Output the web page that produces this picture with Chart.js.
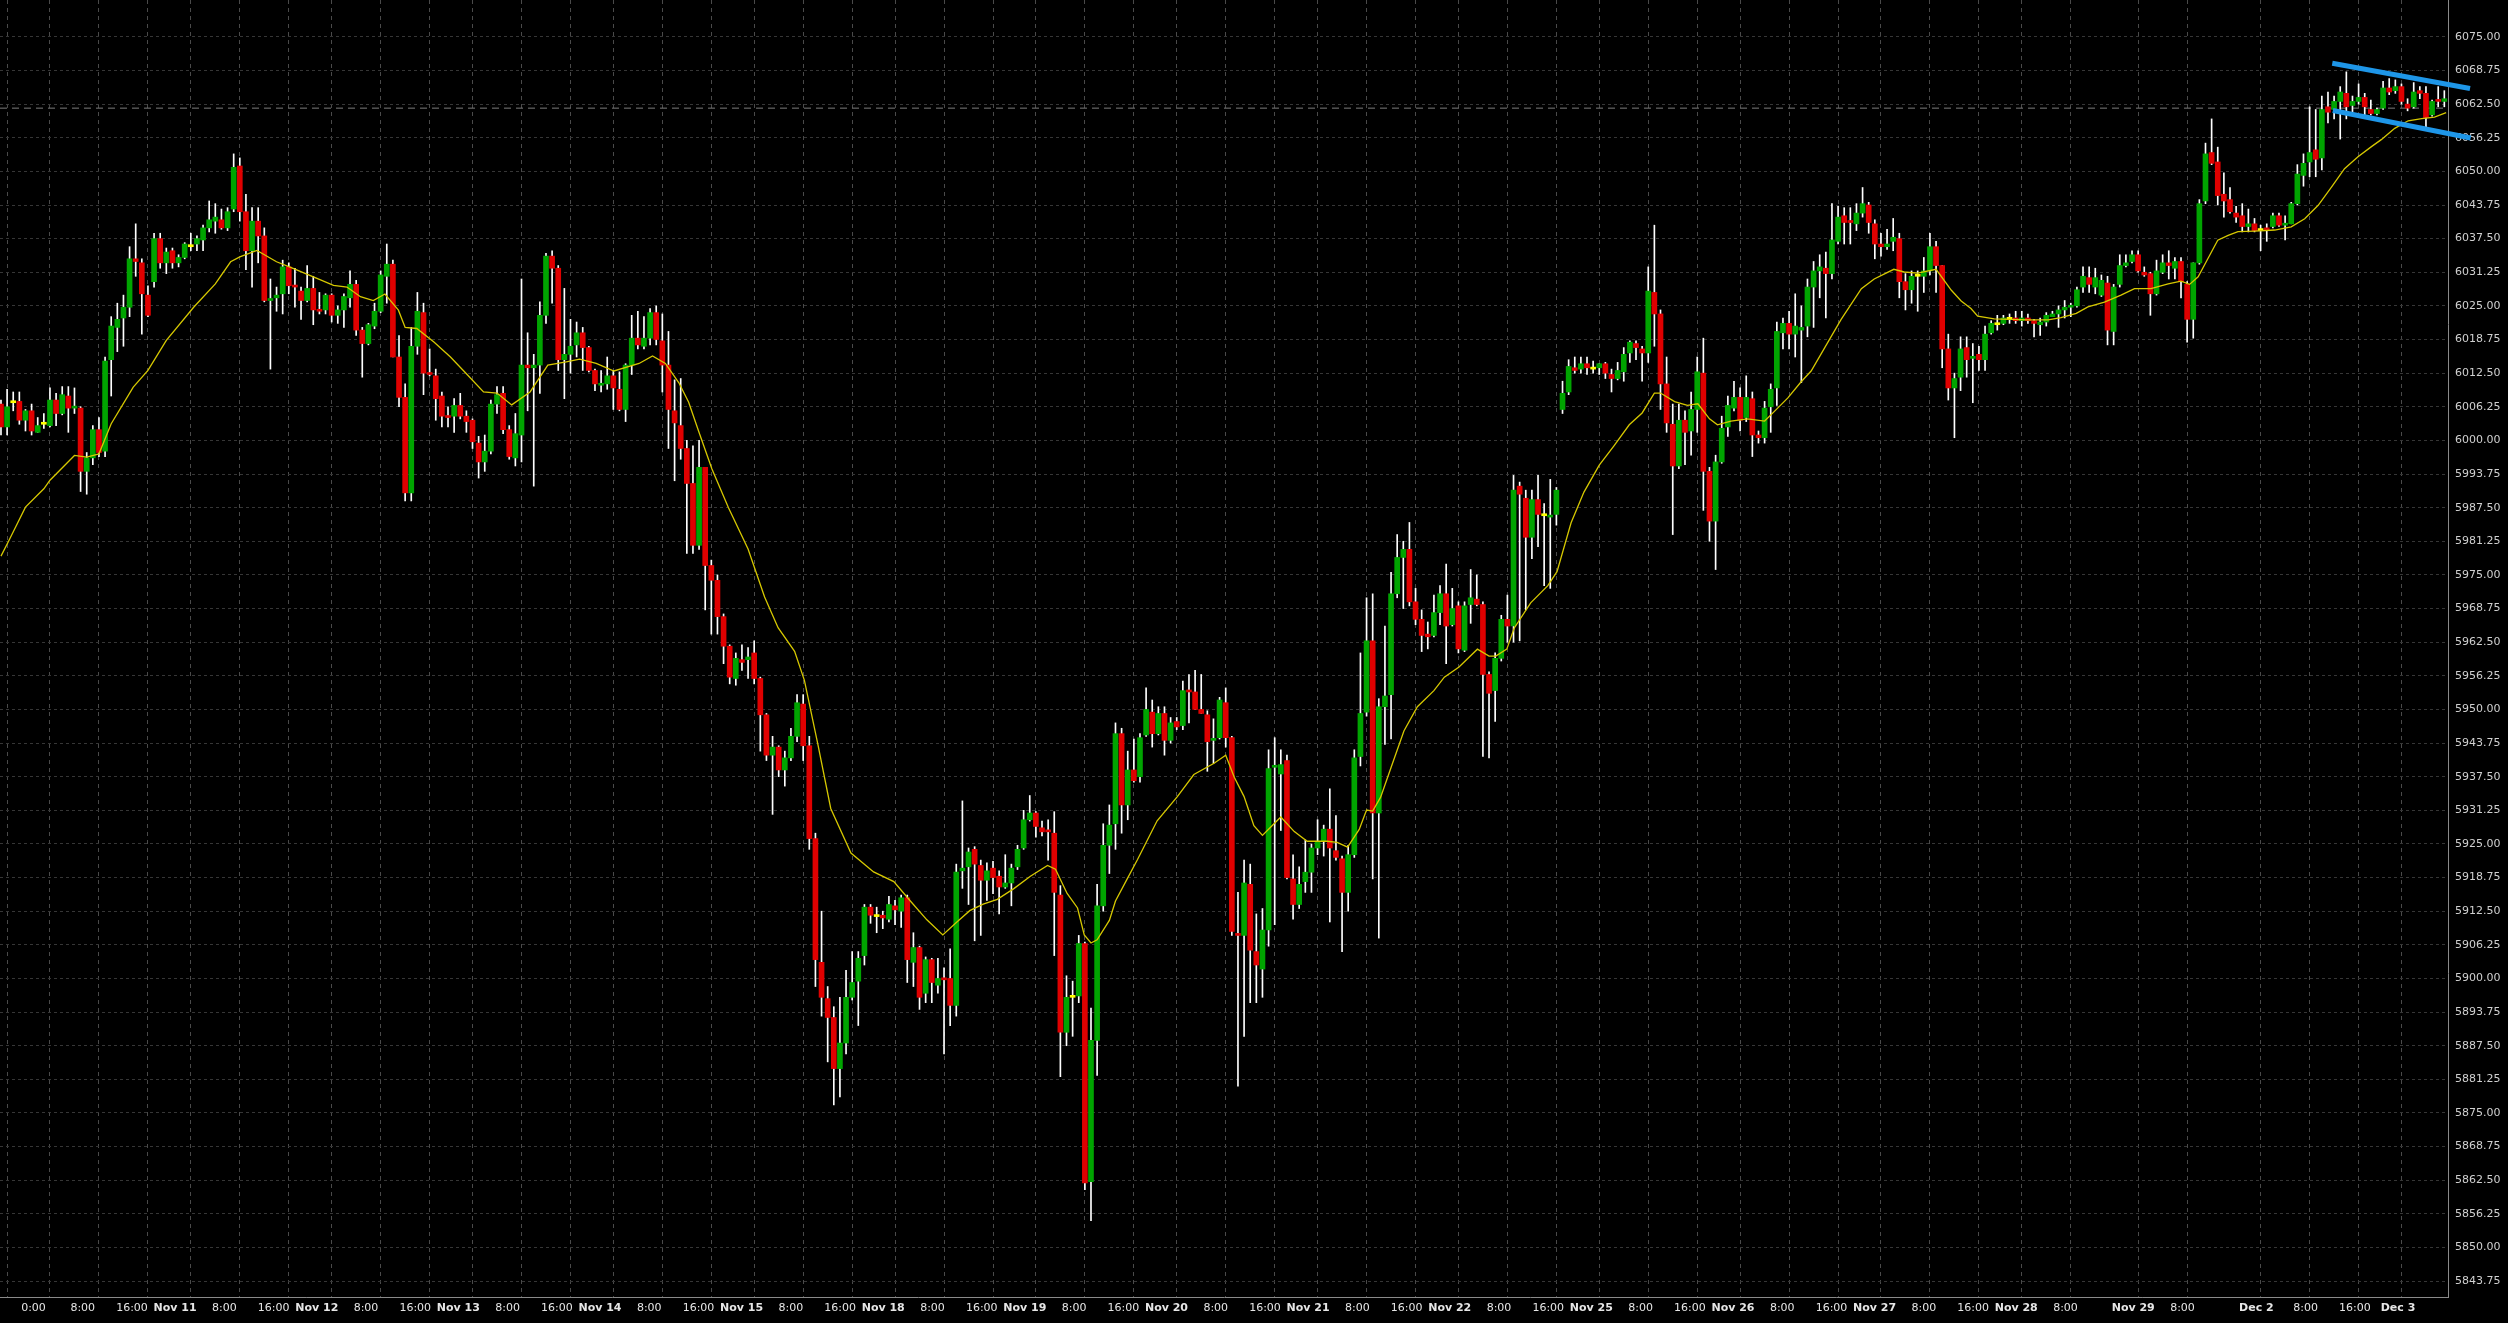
<!DOCTYPE html>
<html>
<head>
<meta charset="utf-8">
<script src="https://cdn.jsdelivr.net/npm/chart.js@4.4.1/dist/chart.umd.min.js"></script>
<style>
  html, body { margin: 0; padding: 0; background: #000; }
  #wrap { width: 2508px; height: 1323px; position: relative; }
</style>
</head>
<body>
<div id="wrap"><canvas id="priceChart"></canvas></div>
<script>
// Hourly bars, Nov 7 15:00 .. Dec 3 07:00 (index = bar number)
const opens = [
  6006.75, 6002.5, 6007, 6007.25, 6003.75, 6005.5, 6001.5, 6003, 6002.75, 6007.5,
  6005, 6008.25, 6006, 6006, 5994.25, 5996.75, 6002, 5998, 6015, 6021,
  6022.75, 6024.75, 6033.75, 6033, 6027, 6029.5, 6037.5, 6033, 6035.25, 6033,
  6034, 6036, 6036.5, 6037.25, 6039.5, 6040.75, 6041, 6039.5, 6043, 6051,
  6042.5, 6035.25, 6040.75, 6038, 6026, 6026.5, 6027.25, 6032.25, 6028.75, 6027.75,
  6026, 6028.25, 6024.25, 6024.25, 6027, 6023.25, 6024.25, 6026.5, 6029, 6020.5,
  6018, 6021.25, 6024, 6030.5, 6032.75, 6015.5, 6008, 5990.25, 6017.5, 6023.75,
  6012.5, 6012, 6008.25, 6004.5, 6004.5, 6006.5, 6004.5, 6003.75, 5999.5, 5996,
  5998, 6006.75, 6008.75, 6002, 5996.75, 6001, 6014, 6013.5, 6014, 6023.25,
  6034.25, 6032, 6015, 6016, 6017.75, 6020, 6017.25, 6013, 6010.25, 6010.5,
  6012, 6009.5, 6005.75, 6014, 6019, 6017.5, 6019, 6023.75, 6018.5, 6014,
  6005.5, 6002.75, 5998.5, 5992, 5980.5, 5995, 5976.75, 5974, 5967.25, 5961.75,
  5955.75, 5959.25, 5959.25, 5960.5, 5955.75, 5949, 5941.5, 5943, 5938.75, 5941,
  5945, 5951, 5943.25, 5926, 5903, 5896.25, 5892.75, 5883.25, 5888, 5896.5,
  5899.5, 5904.25, 5913.25, 5911.5, 5911.75, 5911, 5913.5, 5912.5, 5915, 5903,
  5905.75, 5897.25, 5903.5, 5898.75, 5900, 5900, 5895, 5920, 5920.75, 5924,
  5921, 5918.25, 5920.5, 5919, 5917, 5917.75, 5920.75, 5924.25, 5929.5, 5930.75,
  5928, 5927.5, 5927, 5915.5, 5890, 5896.5, 5896.75, 5906.5, 5862.25, 5888.5,
  5913.5, 5924.75, 5928.75, 5945.5, 5932.25, 5938.75, 5937.5, 5945.25, 5949.5, 5945.5,
  5949.25, 5944.25, 5947.75, 5947, 5953.5, 5953.25, 5950, 5949, 5944.25, 5944.75,
  5951.25, 5944.75, 5908.25, 5908, 5917.5, 5905, 5901.75, 5909, 5939.25, 5938,
  5940.5, 5918.5, 5913.75, 5918, 5919.75, 5924.25, 5925.5, 5927.75, 5923.75, 5922.25,
  5916, 5923, 5941.25, 5949.5, 5962.75, 5930.75, 5950.5, 5952.75, 5971.5, 5978.25,
  5979.75, 5970, 5966.75, 5964, 5963.75, 5968, 5971.5, 5965.75, 5969.25, 5961,
  5969.5, 5970.5, 5969.5, 5956.5, 5953.5, 5959.5, 5966.75, 5965.5, 5991.5, 5989.25,
  5982, 5989, 5986, 5985.75, 5986.25, 6005.75, 6009, 6013.5, 6013.25, 6014.25,
  6013.25, 6013.5, 6014.25, 6012.25, 6011.5, 6012.75, 6016.25, 6018, 6017, 6016.25,
  6027.5, 6023.5, 6010.5, 6003, 5995.25, 6003.75, 6001.75, 6005.75, 6012.5, 5994.25,
  5985, 5996, 6002.5, 6006, 6008, 6004.25, 6007.75, 6001, 6000.5, 6006.25,
  6009.75, 6020, 6021.75, 6019.75, 6020.5, 6021.25, 6028.5, 6031.5, 6032, 6031,
  6037, 6041.75, 6040.75, 6040.25, 6042.25, 6043.75, 6040.25, 6036.5, 6036, 6037,
  6037.5, 6029.5, 6028, 6030.5, 6030.5, 6031.5, 6036, 6032.5, 6017, 6009.75,
  6011.75, 6017.25, 6015.25, 6016, 6015, 6020, 6021.5, 6021.75, 6022.5, 6022.75,
  6022.25, 6022.75, 6022.25, 6021.5, 6022, 6023, 6023.5, 6024.25, 6024.75, 6025,
  6028.5, 6030.25, 6028.5, 6027, 6029.25, 6020.25, 6029, 6032.5, 6033.25, 6034.5,
  6031.25, 6031, 6027.25, 6031.25, 6033, 6032, 6033.25, 6029, 6022.5, 6033,
  6044.5, 6053.5, 6051.75, 6045.75, 6044.75, 6042.25, 6041.75, 6039.75, 6040.25, 6039,
  6039.5, 6039.75, 6041.75, 6040, 6040.25, 6044, 6049.25, 6051.75, 6054, 6052.5,
  6062, 6061.5, 6063, 6064.5, 6062.25, 6063, 6063.75, 6061.5, 6060.75, 6061.75,
  6065.5, 6065, 6065.75, 6062.5, 6062, 6065, 6064.5, 6060.5, 6063.25, 6063
];
const highs = [
  6007.5, 6009.5, 6009, 6009, 6005.75, 6006.75, 6004.25, 6005, 6009.75, 6008.75,
  6010, 6010, 6009.75, 6006.25, 5997.75, 6002.75, 6004.25, 6015.5, 6023, 6025.5,
  6027, 6036, 6040.25, 6033.75, 6028.75, 6038.5, 6038.5, 6035.75, 6035.75, 6034.5,
  6036.75, 6038.5, 6038, 6040, 6044.5, 6044, 6043, 6043.25, 6053.25, 6052.5,
  6045.75, 6043.25, 6043.25, 6039.5, 6030, 6028.5, 6033.5, 6033, 6032, 6028.5,
  6032.5, 6030.5, 6027.5, 6027.25, 6027.25, 6025, 6027.25, 6031.5, 6029.75, 6021,
  6021.75, 6025.5, 6031.5, 6036.5, 6033.5, 6019.5, 6010.5, 6021, 6027.5, 6025.5,
  6017, 6013.25, 6009, 6006.25, 6007.75, 6008.75, 6005.5, 6004, 6000.75, 6001,
  6007.5, 6010, 6010, 6002.75, 6005, 6030, 6020, 6016, 6025.75, 6034.75,
  6035.25, 6032.5, 6028.25, 6022.5, 6022, 6021, 6017.5, 6013.25, 6013, 6015.5,
  6013, 6012.75, 6014.25, 6023.25, 6024, 6023, 6024.5, 6025, 6023.5, 6020.25,
  6011.25, 6011.5, 6000, 5999, 6000, 5995, 5977.75, 5975, 5967.75, 5962,
  5960.5, 5962, 5961.5, 5962.75, 5956, 5949.25, 5945, 5943.25, 5942.25, 5946.5,
  5952.75, 5952.75, 5945, 5927, 5912.5, 5898.5, 5894.75, 5896.5, 5901.5, 5905,
  5905, 5913.75, 5913.75, 5913.25, 5912.5, 5915.25, 5914.5, 5915.5, 5915.5, 5908.5,
  5906, 5904, 5903.75, 5903.75, 5902, 5905.5, 5921.25, 5933, 5924.25, 5924.5,
  5922, 5921.5, 5921.75, 5920, 5923, 5921.25, 5924.75, 5931.25, 5934, 5931,
  5929.25, 5929.5, 5931, 5917.25, 5900.5, 5899.5, 5908, 5906.75, 5894.5, 5917.5,
  5928.75, 5932.25, 5947.5, 5946.5, 5942.25, 5944.5, 5945.5, 5954, 5951.75, 5950.5,
  5950.5, 5948.5, 5948.5, 5955.25, 5956.5, 5957.25, 5956.5, 5949.75, 5948.25, 5952.25,
  5954, 5945, 5916, 5922, 5921.25, 5912, 5913, 5942.5, 5944.75, 5942.5,
  5941.5, 5923, 5920.75, 5925.75, 5925, 5929.5, 5928.5, 5935.25, 5930.25, 5922.75,
  5924.75, 5942.5, 5960.5, 5970.75, 5971.5, 5952, 5965.5, 5975.5, 5982.5, 5981.25,
  5984.75, 5972.5, 5968.5, 5966.25, 5971.25, 5973, 5977, 5972.5, 5970, 5970,
  5976, 5975, 5970, 5957, 5960.5, 5967.5, 5971.25, 5993.5, 5992.25, 5990.75,
  5990.75, 5993.5, 5988.25, 5992.75, 5991.25, 6011, 6015, 6015.5, 6015.5, 6015.5,
  6014.75, 6014.25, 6014.5, 6013.25, 6014.5, 6017.25, 6018.5, 6018.5, 6017.5, 6032.25,
  6040, 6024.25, 6015.5, 6006.75, 6006.75, 6005.5, 6009, 6015.5, 6019, 5995,
  5997.25, 6004.5, 6008.25, 6011, 6009.75, 6012, 6009, 6001.75, 6007.25, 6010.5,
  6022, 6022.75, 6024, 6027.25, 6025, 6030, 6033.25, 6034.5, 6035, 6044,
  6043.5, 6043.25, 6043.25, 6044, 6047, 6044.25, 6041, 6038.5, 6039.25, 6041.25,
  6038.5, 6031, 6031.5, 6031.5, 6034, 6038.5, 6037, 6032.5, 6019.75, 6012.5,
  6019.25, 6019.25, 6018, 6017.5, 6021.25, 6022.25, 6023.25, 6023.25, 6023.5, 6024,
  6024, 6023.5, 6022.5, 6022.75, 6023.75, 6024, 6025, 6026, 6025.5, 6028.5,
  6032.25, 6032.25, 6032, 6030.75, 6030.5, 6029, 6034.5, 6034.5, 6035.25, 6035.25,
  6032.25, 6031.25, 6033.5, 6034.5, 6035.25, 6034, 6034, 6029.5, 6033, 6044.75,
  6055.25, 6059.75, 6054.5, 6049.75, 6047, 6043.5, 6044, 6043, 6041.25, 6040,
  6040.25, 6042.25, 6042.25, 6041.75, 6044.25, 6051.25, 6053.25, 6062, 6061.5, 6064,
  6064.75, 6064, 6065.75, 6068.5, 6064, 6066.25, 6064.5, 6063.25, 6061.75, 6066.75,
  6067.25, 6067, 6066.25, 6063.5, 6066.5, 6065.75, 6065.75, 6063.25, 6065.75, 6065
];
const lows = [
  6001, 6001, 6005.5, 6003, 6001.75, 6001, 6001.5, 6002.25, 6002.5, 6002.75,
  6004.75, 6001.5, 6005, 5990.5, 5990, 5995.5, 5997, 5997, 6008.25, 6016.5,
  6017.5, 6023, 6030.5, 6019.75, 6023, 6028.5, 6032, 6031, 6032, 6032.25,
  6033.75, 6035.25, 6035.25, 6035.25, 6038.75, 6038.5, 6039.25, 6039, 6042.5, 6040.75,
  6031.75, 6028.5, 6033, 6025.75, 6013.25, 6024, 6023.5, 6027.25, 6024.75, 6022.5,
  6025.75, 6021.5, 6023.5, 6023.5, 6022, 6021.75, 6021, 6024.75, 6019.5, 6011.75,
  6017.75, 6020.75, 6023.75, 6025.5, 6015.5, 6006.25, 5988.75, 5988.75, 6016, 6008.5,
  6012, 6003.75, 6002.5, 6002.5, 6001.5, 6004, 6001.5, 5998.5, 5993, 5994.25,
  5997.5, 6005, 6001.25, 5996.5, 5995.25, 5996, 6005.5, 5991.5, 6008.75, 6021.75,
  6025.5, 6013, 6007.75, 6012.5, 6015.5, 6013, 6012.75, 6009.25, 6009, 6009.5,
  6005.75, 6005.5, 6003.5, 6012.25, 6017, 6017, 6017.75, 6017.75, 6009, 5998.5,
  5992.5, 5996.5, 5979, 5979, 5979.75, 5968.5, 5964, 5964, 5958.5, 5954.75,
  5954.5, 5957.25, 5955.75, 5954.75, 5942.25, 5940.5, 5930.5, 5937.5, 5935.75, 5940.5,
  5944, 5940.5, 5924, 5898.5, 5893, 5884.5, 5876.5, 5878, 5886, 5896,
  5891.25, 5902.5, 5910.25, 5908.5, 5909.25, 5910.5, 5910, 5909.5, 5899.25, 5898.5,
  5894.25, 5895.5, 5895.5, 5897.25, 5886, 5891.25, 5893, 5916.75, 5913.75, 5907,
  5908, 5914.5, 5915.75, 5912, 5916.75, 5913.5, 5920.25, 5924, 5929.25, 5926.25,
  5926.5, 5922, 5904.25, 5881.75, 5887.5, 5889.25, 5895.5, 5860.75, 5855, 5882,
  5912.5, 5919.5, 5924, 5927, 5929.5, 5936.5, 5936.5, 5945, 5943, 5945.25,
  5941.5, 5943.75, 5946.25, 5946.25, 5947.5, 5950, 5949.25, 5938.5, 5940, 5944.5,
  5943, 5908, 5880, 5889.25, 5895.5, 5895.5, 5896.5, 5906, 5910, 5927.5,
  5918.5, 5911, 5913, 5916, 5916, 5923, 5922.75, 5910.5, 5922, 5905,
  5912.5, 5922.5, 5939.5, 5948.75, 5918.5, 5907.5, 5943.5, 5944.5, 5970.75, 5968.75,
  5969.25, 5965.75, 5960.75, 5961.25, 5963.5, 5965.75, 5958.5, 5965.5, 5960.5, 5960.75,
  5966, 5969.25, 5941.25, 5941, 5947.75, 5959, 5962.5, 5962.5, 5962.75, 5968.5,
  5978, 5980.25, 5973, 5972.5, 5984.25, 6005, 6008.5, 6012.5, 6012.5, 6012.25,
  6012.5, 6012.25, 6011.5, 6009, 6011.25, 6011, 6014.5, 6015, 6011, 6014.5,
  6017.5, 6005.75, 6001.5, 5982.5, 5994.75, 5995.5, 5997.25, 6001.5, 5987, 5981.25,
  5976, 5995.75, 6000.75, 6005.5, 6001.75, 6003.5, 5997, 5999.5, 5999.5, 6001.5,
  6006.5, 6017, 6017, 6015.5, 6010.75, 6019.25, 6021, 6026.5, 6022.75, 6030,
  6036.5, 6036.5, 6036.5, 6039, 6041.5, 6038.5, 6033.75, 6034.25, 6035.5, 6035.25,
  6026.5, 6024.25, 6025.5, 6024, 6027.5, 6030.75, 6027.5, 6013.5, 6007.5, 6000.5,
  6009.25, 6011.75, 6007, 6013, 6013, 6019.75, 6020.5, 6021.5, 6021.75, 6021.75,
  6021.25, 6021.75, 6019.25, 6019.5, 6021.25, 6023, 6021, 6022.75, 6023, 6024.75,
  6027.5, 6027.5, 6027.25, 6026.75, 6017.75, 6017.75, 6028.5, 6032.25, 6033, 6031.25,
  6030.5, 6023.25, 6027, 6031, 6030, 6030, 6026.5, 6018.25, 6019, 6032.75,
  6044, 6051.25, 6043.75, 6041.5, 6042.25, 6040.5, 6038.75, 6038.75, 6038.75, 6035.25,
  6037, 6039.5, 6039.75, 6037.25, 6040.25, 6043.75, 6047.25, 6049, 6049, 6050.25,
  6059, 6059.75, 6056, 6059.75, 6061, 6062.5, 6060.5, 6060.5, 6060.5, 6061.5,
  6064.25, 6064.5, 6062.5, 6061.25, 6061.75, 6063.5, 6058.25, 6060.25, 6062, 6062
];
const closes = [
  6002.5, 6006.25, 6007, 6003.75, 6005.5, 6001.75, 6002.75, 6003, 6007.5, 6005,
  6008.5, 6006, 6006.25, 5994.25, 5996.75, 6002, 5997.75, 6014.75, 6021.25, 6022.5,
  6024.75, 6033.75, 6033.25, 6027.25, 6023.25, 6037.5, 6033, 6035, 6033, 6034,
  6036.5, 6036, 6037.5, 6039.5, 6041, 6041.5, 6039.5, 6042.5, 6050.75, 6042.5,
  6035.25, 6040.75, 6038, 6026, 6026.25, 6027, 6032.25, 6028.75, 6028.5, 6026,
  6028.25, 6024.25, 6024, 6027, 6023.25, 6024.25, 6026.75, 6029, 6020.5, 6018,
  6021.5, 6024, 6030.75, 6032.75, 6015.5, 6008, 5990.25, 6017.5, 6024, 6012.5,
  6012.25, 6007.75, 6004.5, 6004.25, 6006.5, 6004.5, 6003.5, 5999.75, 5996, 5998,
  6006.75, 6008.5, 6002, 5997, 6001.25, 6014, 6013.5, 6014, 6023.25, 6034.25,
  6032, 6015, 6016, 6017.5, 6020, 6017.25, 6013, 6010.5, 6010.5, 6012,
  6009.75, 6005.75, 6014, 6019, 6017.75, 6019, 6023.75, 6018.75, 6014, 6005.75,
  6003.25, 5998.5, 5992, 5980.5, 5995, 5976.75, 5974, 5967.25, 5961.75, 5956,
  5959.5, 5958.75, 5959.75, 5955.75, 5949, 5941.5, 5943, 5938.75, 5941, 5945,
  5951.25, 5943.25, 5926, 5903.5, 5896.5, 5892.75, 5883.25, 5888, 5896.5, 5899.25,
  5903.75, 5913.25, 5911.75, 5911.5, 5911.25, 5913.75, 5912.75, 5915, 5903.5, 5905.75,
  5896.5, 5903.5, 5899.25, 5900, 5899.75, 5895, 5919.75, 5920.5, 5923.5, 5921.25,
  5918.25, 5920, 5918.75, 5917, 5917.75, 5920.5, 5924, 5929.5, 5930.75, 5928.25,
  5927.25, 5927.25, 5916, 5890, 5896.5, 5896.5, 5906.5, 5862, 5888.5, 5913.5,
  5924.75, 5928.5, 5945.5, 5932.25, 5938.75, 5936.75, 5944.75, 5950, 5945.5, 5949.25,
  5944.25, 5947.5, 5946.75, 5953.5, 5953.25, 5950, 5949.25, 5944, 5944.5, 5951.75,
  5944.75, 5908.75, 5908, 5917.75, 5905.25, 5902.5, 5909, 5939, 5939.5, 5939.75,
  5918.75, 5913.75, 5917.5, 5919.75, 5924.25, 5925.5, 5927.75, 5924.25, 5922.5, 5916,
  5923, 5941, 5949.25, 5962.75, 5930.75, 5950.5, 5952.5, 5971.5, 5978.25, 5979.75,
  5970, 5966.75, 5963.75, 5963.5, 5968, 5971.5, 5965.5, 5968.75, 5961.25, 5969.25,
  5970.75, 5969.5, 5956.5, 5953, 5959.5, 5966.75, 5965.5, 5990.75, 5990, 5982,
  5989, 5986.25, 5986, 5986, 5990.75, 6008.75, 6013.75, 6013, 6014.25, 6013.5,
  6013.25, 6014.25, 6012.5, 6011.5, 6013, 6016, 6018.25, 6017.25, 6016.25, 6027.75,
  6023.5, 6010.5, 6003.25, 5995.25, 6003.75, 6001.5, 6005.75, 6012.75, 5994.25, 5985,
  5996, 6002.25, 6006.5, 6008, 6003.75, 6008, 6001, 6000.5, 6006, 6009.5,
  6020.25, 6021.75, 6019.75, 6021.25, 6021, 6028.5, 6031.5, 6032.25, 6031, 6037.25,
  6041.5, 6040.5, 6040.5, 6042.25, 6044, 6040.5, 6036.5, 6036, 6036.5, 6037.75,
  6029.5, 6028, 6030.5, 6030.5, 6031.5, 6036, 6032.5, 6017, 6009.75, 6011.5,
  6017, 6015, 6015.5, 6015, 6019.75, 6021.75, 6021.5, 6022.75, 6022.5, 6022.25,
  6022.75, 6022.25, 6021.75, 6022, 6023.25, 6023.5, 6024.25, 6024.75, 6025, 6028,
  6030.5, 6029, 6030.25, 6029.75, 6020.5, 6028.5, 6032.5, 6033, 6034.5, 6031.5,
  6030.75, 6027.25, 6031.5, 6033, 6032.5, 6033.25, 6029.5, 6022.5, 6033, 6044,
  6053.25, 6051.5, 6045.5, 6044.5, 6042.5, 6041.5, 6039.75, 6040.25, 6039, 6039,
  6039, 6041.75, 6040, 6040.25, 6044, 6049.5, 6051.5, 6053.5, 6052.25, 6061.5,
  6061, 6063, 6064.75, 6062, 6063, 6063.75, 6062, 6060.75, 6061.5, 6065.5,
  6064.75, 6065.75, 6063, 6061.75, 6064.75, 6064.5, 6060, 6063, 6063, 6063.5
];

// yellow moving average (bar position, value)
const maBar = [
  0, 1.3, 4, 7, 8, 12, 14, 16, 18, 21.6, 24, 27, 31.5, 35, 37.5, 39, 41.8, 45, 47.2, 51.6,
  54.3, 56.5, 58.7, 60.8, 62.7, 64.9, 66, 67.9, 70.7, 73.4, 76, 78.8, 81, 83.4, 86.4, 89.3, 92.3, 94.5, 97.2, 100.1,
  104.2, 106.4, 108.5, 110.7, 112.3, 113.9, 116.1, 118.8, 122, 124.7, 126.9, 129.6, 131.2, 133.4, 135.5, 138.8, 142.5, 145.8, 148.5, 151.2,
  153.8, 156.1, 158.2, 160.4, 162.7, 165.4, 168.1, 170.9, 172.2, 174.1, 175.8, 176.9, 178, 179, 181, 182, 184, 185.6, 188.8, 192.1,
  194.8, 198.1, 200, 201.4, 203, 204.6, 206, 207.4, 209, 211.2, 213.3, 216.6, 218.2, 219.9, 221.8, 223, 224, 225.3, 227, 229.1,
  231.3, 234, 235.7, 238.1, 241.1, 243, 244.1, 245.9, 247.1, 249.8, 252.6, 254.1, 256.4, 258.5, 261, 263.4, 265.9, 268, 270, 271,
  273.3, 275.4, 277.1, 279, 280.3, 282.5, 285.2, 288, 289.6, 291.8, 293.9, 295.6, 297.8, 300.5, 303.8, 305.9, 309.1, 310.8, 313, 316,
  318.5, 320.1, 321.7, 322.8, 325.5, 331, 334.3, 336.4, 338.9, 340.8, 343.5, 346.2, 348.4, 351.1, 353.9, 356, 357.4, 358.8, 360.4, 362,
  363.7, 365.3, 368, 371.3, 374, 376.2, 378.4, 380.6, 382.7, 384.9, 387.1, 388.7, 390.9, 393.1, 395.3, 397.4, 399.3
];
const maValue = [
  5978.5, 5981.4, 5987.6, 5991, 5992.6, 5997.2, 5996.9, 5997.5, 6003.1, 6009.9, 6013, 6018.6, 6024.8, 6029.1, 6033.2, 6034.1, 6035.3, 6033.2, 6032.2, 6030.1,
  6028.8, 6028.5, 6026.7, 6026, 6027.2, 6024.2, 6021, 6020.8, 6018.3, 6015.5, 6012.4, 6009, 6008.8, 6006.6, 6009, 6014, 6014.6, 6015.1, 6014.3, 6012.9,
  6014.3, 6015.7, 6014.3, 6010.7, 6007.1, 6001.8, 5994.7, 5987.5, 5979.8, 5970.9, 5965.2, 5960.8, 5955.4, 5943.5, 5931.6, 5923.3, 5919.8, 5918, 5914.4, 5910.9,
  5908.1, 5910.5, 5912.6, 5913.8, 5914.7, 5916.7, 5919, 5921, 5920.3, 5915.8, 5913.1, 5908.1, 5906.6, 5907.2, 5910.8, 5914.4, 5918.7, 5922.1, 5929.3, 5933.8,
  5937.9, 5940, 5941.5, 5937.4, 5933.8, 5928.4, 5926.6, 5928.2, 5930, 5927.3, 5925.5, 5925.5, 5925.3, 5924.4, 5927.7, 5931.3, 5931.1, 5933.7, 5939.2, 5946,
  5950.5, 5953.5, 5956, 5957.9, 5961.2, 5959.9, 5959.9, 5961.2, 5965.1, 5969.8, 5973, 5975.6, 5984.7, 5990.4, 5995.4, 5999, 6002.9, 6005.1, 6008.8, 6008.8,
  6007.2, 6006.5, 6006.8, 6004, 6002.9, 6003.6, 6004, 6003.6, 6005.4, 6007.9, 6010.8, 6012.9, 6017.2, 6022.5, 6028.2, 6030, 6031.8, 6031.3, 6031.1, 6031.8,
  6027.9, 6025.9, 6024.5, 6023.1, 6022.6, 6022.4, 6022.4, 6022.8, 6023.6, 6024.8, 6025.7, 6027, 6028.2, 6028.2, 6029.1, 6029.6, 6029, 6030.4, 6033.8, 6037.2,
  6038.1, 6038.8, 6038.9, 6039.1, 6039.7, 6041.2, 6043.7, 6047.1, 6050.5, 6052.7, 6054.6, 6055.9, 6058, 6059.4, 6059.8, 6060.1, 6060.9
];

// blue channel lines drawn by hand on the chart: [bar, price]
const channelUpper = [[380.7, 6070.1], [403.2, 6065.4]];
const channelLower = [[380.8, 6061.3], [403.3, 6056.2]];
const lastPriceLine = 6061.75;

const yTickValues = [6075, 6068.75, 6062.5, 6056.25, 6050, 6043.75, 6037.5, 6031.25, 6025, 6018.75,
  6012.5, 6006.25, 6000, 5993.75, 5987.5, 5981.25, 5975, 5968.75, 5962.5, 5956.25,
  5950, 5943.75, 5937.5, 5931.25, 5925, 5918.75, 5912.5, 5906.25, 5900, 5893.75,
  5887.5, 5881.25, 5875, 5868.75, 5862.5, 5856.25, 5850, 5843.75];

const xTickBars = [1, 8, 16, 24, 31, 39, 47, 54, 62, 70, 77, 85, 93, 100, 108, 116, 123, 131, 139,
  146, 154, 162, 169, 177, 185, 192, 200, 208, 215, 223, 231, 238, 246, 254, 261, 269, 277,
  284, 292, 300, 307, 315, 323, 330, 338, 349, 357, 369, 377, 385, 392];
const xTickText = ['', '0:00', '8:00', '16:00', 'Nov 11', '8:00', '16:00', 'Nov 12', '8:00', '16:00',
  'Nov 13', '8:00', '16:00', 'Nov 14', '8:00', '16:00', 'Nov 15', '8:00', '16:00',
  'Nov 18', '8:00', '16:00', 'Nov 19', '8:00', '16:00', 'Nov 20', '8:00', '16:00',
  'Nov 21', '8:00', '16:00', 'Nov 22', '8:00', '16:00', 'Nov 25', '8:00', '16:00',
  'Nov 26', '8:00', '16:00', 'Nov 27', '8:00', '16:00', 'Nov 28', '8:00', 'Nov 29', '8:00',
  'Dec 2', '8:00', '16:00', 'Dec 3'];

// colores de las velas
const UP = '#00a400', DOWN = '#e00000', DOJI = '#ffff00';
const bodyColors = closes.map((c, i) => c > opens[i] ? UP : (c < opens[i] ? DOWN : DOJI));

const bodies = closes.map((c, i) => ({ x: i, y: [opens[i], c] }));
const wicks = highs.map((h, i) => ({ x: i, y: [lows[i], h] }));
const maPoints = maBar.map((b, i) => ({ x: b, y: maValue[i] }));
const toPts = arr => arr.map(p => ({ x: p[0], y: p[1] }));

const X_MIN = -0.16, X_MAX = 399.6;

// no extra room for the labels: the plot goes to the edges
const noPad = s => { s.paddingLeft = 0; s.paddingRight = 0; s.paddingTop = 0; s.paddingBottom = 0; };

const ctx = document.getElementById('priceChart').getContext('2d');
const priceChart = new Chart(ctx, {
  type: 'bar',
  data: {
    datasets: [
      { type: 'line', data: toPts(channelUpper), borderColor: '#1e96e8', borderWidth: 5,
        pointRadius: 0, clip: false, xAxisID: 'x', yAxisID: 'y' },
      { type: 'line', data: toPts(channelLower), borderColor: '#1e96e8', borderWidth: 5,
        pointRadius: 0, clip: false, xAxisID: 'x', yAxisID: 'y' },
      { type: 'line', data: maPoints, borderColor: '#d6c800', borderWidth: 1.3,
        pointRadius: 0, tension: 0, xAxisID: 'x', yAxisID: 'y' },
      { type: 'bar', data: bodies, backgroundColor: bodyColors, barThickness: 5,
        grouped: false, minBarLength: 2, xAxisID: 'x', yAxisID: 'y' },
      { type: 'bar', data: wicks, backgroundColor: '#ffffff', barThickness: 1,
        grouped: false, xAxisID: 'x', yAxisID: 'y' },
      { type: 'line', data: [{ x: X_MIN, y: lastPriceLine }, { x: X_MAX, y: lastPriceLine }],
        borderColor: '#7c7c7c', borderWidth: 1, borderDash: [7, 5], pointRadius: 0,
        xAxisID: 'x', yAxisID: 'y' }
    ]
  },
  options: {
    responsive: true,
    maintainAspectRatio: false,
    animation: false,
    layout: { padding: 0 },
    plugins: { legend: { display: false }, tooltip: { enabled: false } },
    scales: {
      x: {
        type: 'linear', position: 'bottom', min: X_MIN, max: X_MAX, offset: false,
        afterBuildTicks: s => { s.ticks = xTickBars.map(v => ({ value: v })); },
        afterFit: s => { s.height = 0; noPad(s); },
        ticks: { display: false },
        grid: { color: '#4a4a4a', lineWidth: 1, drawTicks: false, offset: false },
        border: { display: true, color: '#8a8a8a', dash: [4, 4] }
      },
      xl: {
        type: 'linear', position: 'bottom', min: 2.56, max: 400.12, offset: false,
        afterBuildTicks: s => { s.ticks = xTickBars.map(v => ({ value: v })); },
        afterFit: s => { s.height = 26; noPad(s); },
        grid: { display: false, drawTicks: false, offset: false },
        border: { display: false },
        ticks: {
          autoSkip: false, maxRotation: 0, minRotation: 0, padding: 5,
          color: '#e6e6e6',
          callback: v => xTickText[xTickBars.indexOf(v)] ?? '',
          font: c => ({ family: 'DejaVu Sans', size: 11,
            weight: /^[A-Z]/.test(xTickText[c.index] || '') ? 'bold' : 'normal' })
        }
      },
      y: {
        type: 'linear', position: 'right', min: 5840.8, max: 6081.85,
        afterBuildTicks: s => { s.ticks = yTickValues.map(v => ({ value: v })); },
        afterFit: s => { s.width = 60; noPad(s); },
        ticks: { color: '#d0d0d0', padding: 7, font: { family: 'DejaVu Sans', size: 11 },
          callback: v => Number(v).toFixed(2) },
        grid: { color: '#363636', lineWidth: 1, drawTicks: false },
        border: { display: true, color: '#8a8a8a', dash: [3, 3] }
      }
    }
  }
});
</script>
</body>
</html>
